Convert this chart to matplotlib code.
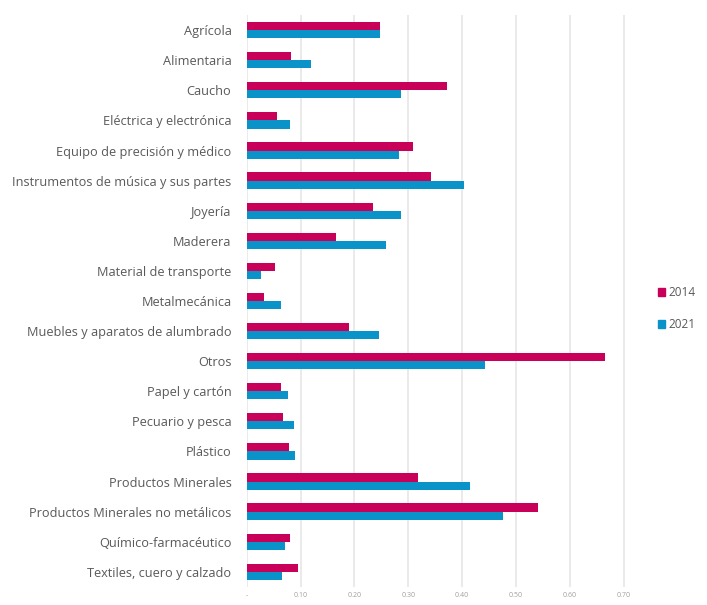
import numpy as np
import matplotlib.pyplot as plt
from matplotlib.patches import Patch

categories = ["Agrícola", "Alimentaria", "Caucho", "Eléctrica y electrónica",
              "Equipo de precisión y médico", "Instrumentos de música y sus partes",
              "Joyería", "Maderera", "Material de transporte", "Metalmecánica",
              "Muebles y aparatos de alumbrado", "Otros", "Papel y cartón",
              "Pecuario y pesca", "Plástico", "Productos Minerales",
              "Productos Minerales no metálicos", "Químico-farmacéutico",
              "Textiles, cuero y calzado"]
v2014 = [0.248, 0.083, 0.372, 0.056, 0.308, 0.342, 0.234, 0.165, 0.053, 0.032,
         0.190, 0.665, 0.063, 0.068, 0.079, 0.318, 0.541, 0.081, 0.096]
v2021 = [0.248, 0.120, 0.286, 0.081, 0.282, 0.403, 0.286, 0.258, 0.027, 0.063,
         0.246, 0.443, 0.076, 0.088, 0.090, 0.414, 0.475, 0.071, 0.066]
ticks = [0, 0.1, 0.2, 0.3, 0.4, 0.5, 0.6, 0.7]
tick_labels = ["-", "0.10", "0.20", "0.30", "0.40", "0.50", "0.60", "0.70"]

c14 = "#C8005A"
c21 = "#0A93C8"
grey = "#595959"

plt.rcParams['font.family'] = ['Open Sans', 'DejaVu Sans']

fig = plt.figure(figsize=(7.07, 6.05), dpi=100)
ax = fig.add_axes([0.349, 0.03, 0.556, 0.945])

y = np.arange(len(categories))
h = 0.27
ax.barh(y - h / 2, v2014, height=h, color=c14, label="2014", zorder=3)
ax.barh(y + h / 2, v2021, height=h, color=c21, label="2021", zorder=3)

ax.set_ylim(len(categories) - 0.5, -0.5)
ax.set_xlim(0, 0.73)
ax.set_yticks(y)
ax.set_yticklabels(categories, fontsize=9.2, color=grey)
ax.set_xticks(ticks)
ax.set_xticklabels(tick_labels, fontsize=5, color="#a0a0a0")
ax.tick_params(axis='y', length=0, pad=11)
ax.tick_params(axis='x', length=0, pad=4)
ax.grid(axis='x', color="#e6e6e6", linewidth=1.2, zorder=0)
for s in ax.spines.values():
    s.set_visible(False)

handles = [Patch(color=c14, label="2014"), Patch(color=c21, label="2021")]
fig.legend(handles=handles, loc="center left", bbox_to_anchor=(0.915, 0.49),
           frameon=False, fontsize=8.5, labelcolor=grey, handlelength=0.6,
           handleheight=0.6, handletextpad=0.3, labelspacing=1.6)

fig.savefig("out.png", dpi=100)
